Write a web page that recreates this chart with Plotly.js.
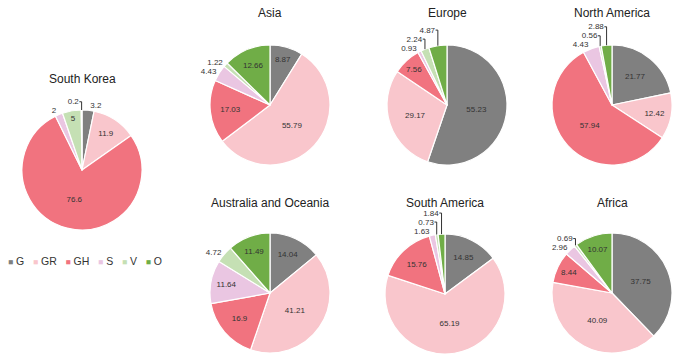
<!DOCTYPE html>
<html>
<head>
<meta charset="utf-8">
<script src="https://cdn.plot.ly/plotly-3.0.1.min.js"></script>
<style>html,body{margin:0;padding:0;background:#fff;}#chart{width:680px;height:364px;}</style>
</head>
<body>
<div id="chart"></div>
<script>
// Categories and colours
const categories = ["G", "GR", "GH", "S", "V", "O"];
const colors = ["#808080", "#f9c6cc", "#f1737f", "#eac6e2", "#c5e0b4", "#70ad47"];

// Regions
const regions = ["South Korea", "Asia", "Europe", "North America", "Australia and Oceania", "South America", "Africa"];

// Values per region (G, GR, GH, S, V, O)
const southKorea   = [3.2, 11.9, 76.6, 2, 5, 0.2];
const asia         = [8.87, 55.79, 17.03, 4.43, 1.22, 12.66];
const europe       = [55.23, 29.17, 7.56, 0.93, 2.24, 4.87];
const northAmerica = [21.77, 12.42, 57.94, 4.43, 0.56, 2.88];
const australia    = [14.04, 41.21, 16.9, 11.64, 4.72, 11.49];
const southAmerica = [14.85, 65.19, 15.76, 1.63, 0.73, 1.84];
const africa       = [37.75, 40.09, 8.44, 2.96, 0.69, 10.07];

const seriesValues = [southKorea, asia, europe, northAmerica, australia, southAmerica, africa];

// Layout: pie centres (px) and radius
const W = 680, H = 364, R = 60;
const centres = [[82,170],[270,105],[447,105],[612,105],[270,293],[445,294],[612,293]];
const titleY = [79, 13, 13, 13, 203, 203, 203];

const font = "Liberation Sans, Arial, sans-serif";

const traces = seriesValues.map((vals, i) => {
  const [cx, cy] = centres[i];
  return {
    type: "pie",
    labels: categories,
    values: vals,
    sort: false,
    direction: "clockwise",
    rotation: 0,
    marker: {colors: colors, line: {color: "#ffffff", width: 1.2}},
    texttemplate: "%{value}",
    textposition: vals.map(v => v < 5 ? "outside" : "inside"),
    insidetextorientation: "horizontal",
    textfont: {family: font, size: 8, color: "#333333"},
    outsidetextfont: {family: font, size: 8, color: "#333333"},
    insidetextfont: {family: font, size: 8, color: "#333333"},
    hoverinfo: "label+value",
    showlegend: false,
    domain: {
      x: [(cx - R) / W, (cx + R) / W],
      y: [1 - (cy + R) / H, 1 - (cy - R) / H]
    },
    name: regions[i]
  };
});

const annotations = regions.map((r, i) => ({
  text: r,
  xref: "paper", yref: "paper",
  x: centres[i][0] / W, y: 1 - titleY[i] / H,
  xanchor: "center", yanchor: "middle",
  showarrow: false,
  font: {family: font, size: 12, color: "#222222"}
}));

// Legend built from categories / colours
const legendText = categories.map((c, i) =>
  '<span style="color:' + colors[i] + ';font-size:8.5px">■</span> ' + c
).join('&nbsp;&nbsp;&nbsp;');
annotations.push({
  text: legendText,
  xref: "paper", yref: "paper",
  x: 6 / W, y: 1 - 261 / H,
  xanchor: "left", yanchor: "middle",
  showarrow: false,
  font: {family: font, size: 10.5, color: "#333333"}
});

const layout = {
  width: W, height: H,
  margin: {l: 0, r: 0, t: 0, b: 0},
  paper_bgcolor: "#ffffff",
  showlegend: false,
  annotations: annotations,
  font: {family: font}
};

Plotly.newPlot("chart", traces, layout, {displayModeBar: false, staticPlot: true});
</script>
</body>
</html>
